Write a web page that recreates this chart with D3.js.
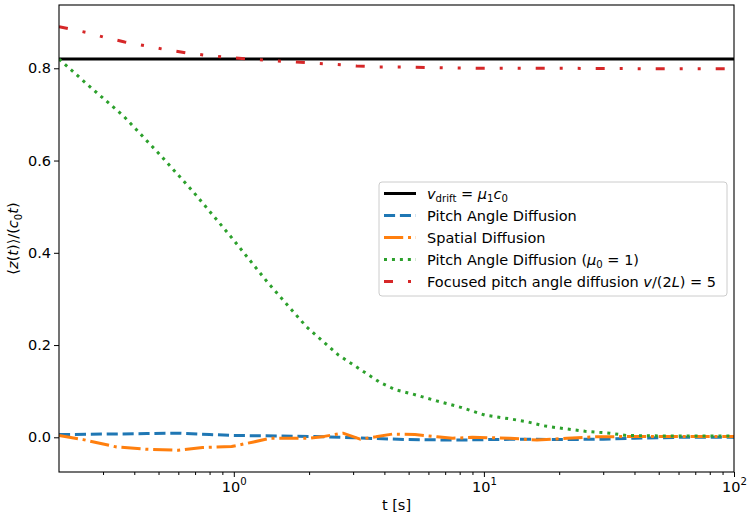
<!DOCTYPE html>
<html>
<head>
<meta charset="utf-8">
<script src="https://cdn.jsdelivr.net/npm/d3@7"></script>
<style>
  body { margin: 0; background: #fff; }
  svg text { font-family: "DejaVu Sans", sans-serif; }
</style>
</head>
<body>
<div id="chart"></div>
<script>
// values
const driftV = 0.82;
const driftT = [0.2, 100];

const pitchT = [0.2, 0.3, 0.45, 0.6, 0.8, 1, 1.5, 2, 3, 5, 8, 10, 15, 20, 30, 40, 60, 100];
const pitchV = [0.006, 0.007, 0.008, 0.009, 0.006, 0.004, 0.003, 0.002, -0.001, -0.005, -0.006, -0.005, -0.004, -0.005, -0.004, -0.002, 0.0, 0.0];

const spatialT = [0.2, 0.25, 0.34, 0.45, 0.6, 0.75, 0.98, 1.2, 1.4, 2.0, 2.3, 2.73, 3.2, 3.7, 4.3, 5.3, 6.5, 7.5, 9, 12.7, 16.3, 21.5, 28, 40, 60, 100];
const spatialV = [0.004, -0.005, -0.021, -0.026, -0.028, -0.022, -0.02, -0.01, -0.002, -0.002, 0.002, 0.009, -0.004, 0.001, 0.007, 0.006, 0.001, -0.002, 0.0, -0.002, -0.006, -0.002, 0.001, 0.002, 0.002, 0.002];

const pitchMu1T = [0.2, 0.256, 0.363, 0.5, 0.684, 0.97, 1.36, 1.95, 2.61, 3.84, 4.44, 5.17, 6.47, 8.09, 10.1, 12.7, 14.8, 17.3, 20.1, 25.4, 31.9, 37.2, 50, 70, 100];
const pitchMu1V = [0.82, 0.768, 0.696, 0.616, 0.534, 0.436, 0.337, 0.240, 0.179, 0.119, 0.103, 0.094, 0.079, 0.065, 0.048, 0.040, 0.034, 0.025, 0.020, 0.013, 0.009, 0.004, 0.003, 0.003, 0.003];

const focusedT = [0.2, 0.256, 0.3, 0.366, 0.45, 0.54, 0.655, 0.81, 0.96, 1.18, 1.45, 1.73, 2.11, 2.6, 3.1, 3.8, 4.7, 6.9, 10, 20, 50, 100];
const focusedV = [0.89, 0.878, 0.868, 0.857, 0.848, 0.84, 0.833, 0.827, 0.823, 0.82, 0.816, 0.814, 0.811, 0.808, 0.805, 0.803, 0.803, 0.801, 0.8, 0.8, 0.799, 0.799];

const yTicks = [0.0, 0.2, 0.4, 0.6, 0.8];
const xMajor = [1, 10, 100];
const xMinor = [0.3, 0.4, 0.5, 0.6, 0.7, 0.8, 0.9, 2, 3, 4, 5, 6, 7, 8, 9, 20, 30, 40, 50, 60, 70, 80, 90];

const W = 748, H = 514;
const margin = {left: 59, right: 14, top: 5, bottom: 42};
const width = W - margin.left - margin.right;
const height = H - margin.top - margin.bottom;
const FS = 14.5;

const x = d3.scaleLog([0.2, 100], [0, width]);
const y = d3.scaleLinear([-0.0752, 0.9372], [height, 0]);

const svg = d3.select("#chart").append("svg")
  .attr("width", W).attr("height", H);
const g = svg.append("g")
  .attr("transform", "translate(" + margin.left + "," + margin.top + ")");

// clip for lines
g.append("clipPath").attr("id", "clip")
  .append("rect").attr("width", width).attr("height", height);

// small helper for mathtext-like labels
function mathText(sel, parts, fs) {
  let shift = 0;
  parts.forEach(p => {
    const ts = sel.append("tspan").text(p.t);
    if (p.it) ts.style("font-style", "italic");
    const want = p.sub ? fs * 0.27 : (p.sup ? -fs * 0.45 : 0);
    if (want !== shift) { ts.attr("dy", want - shift); shift = want; }
    if (p.sub || p.sup) ts.style("font-size", (fs * 0.7) + "px");
  });
}

const series = [
  {t: driftT, v: [driftV, driftV], color: "#000000", dash: null},
  {t: pitchT, v: pitchV, color: "#1f77b4", dash: "11.1 4.8"},
  {t: spatialT, v: spatialV, color: "#ff7f0e", dash: "19.2 4.8 3 4.8"},
  {t: pitchMu1T, v: pitchMu1V, color: "#2ca02c", dash: "3 4.95"},
  {t: focusedT, v: focusedV, color: "#d62728", dash: "9 15 3 15 3 15"}
];

const line = d3.line().x(d => x(d[0])).y(d => y(d[1]));

g.append("g").attr("clip-path", "url(#clip)")
  .selectAll("path")
  .data(series)
  .join("path")
  .attr("d", s => line(d3.zip(s.t, s.v)))
  .attr("fill", "none")
  .attr("stroke", s => s.color)
  .attr("stroke-width", 3)
  .attr("stroke-dasharray", s => s.dash)
  .attr("stroke-linecap", "butt")
  .attr("stroke-linejoin", "round");

// x axis: minor then major ticks
g.append("g")
  .attr("transform", "translate(0," + height + ")")
  .call(d3.axisBottom(x).tickValues(xMinor).tickSize(3).tickFormat(""))
  .call(a => a.select(".domain").remove());

const xAx = g.append("g")
  .attr("transform", "translate(0," + height + ")")
  .call(d3.axisBottom(x).tickValues(xMajor).tickSize(5).tickFormat(""))
  .call(a => a.select(".domain").remove());

xAx.selectAll(".tick").append("text")
  .attr("fill", "#000")
  .attr("y", 20)
  .attr("text-anchor", "middle")
  .style("font-size", FS + "px")
  .each(function(d) {
    mathText(d3.select(this), [{t: "10"}, {t: String(Math.round(Math.log10(d))), sup: true}], FS);
  });

// y axis
g.append("g")
  .call(d3.axisLeft(y).tickValues(yTicks).tickSize(5).tickFormat(d3.format(".1f")))
  .call(a => a.select(".domain").remove())
  .call(a => a.selectAll("text").attr("fill", "#000").attr("x", -8).style("font-size", FS + "px"));

// frame
g.append("rect")
  .attr("width", width).attr("height", height)
  .attr("fill", "none").attr("stroke", "#000").attr("stroke-width", 1.1);

// axis labels
g.append("text")
  .attr("x", x(Math.sqrt(0.2 * 100))).attr("y", height + 38)
  .attr("text-anchor", "middle")
  .style("font-size", FS + "px")
  .text("t [s]");

svg.append("text")
  .attr("transform", "translate(18," + (margin.top + height / 2) + ") rotate(-90)")
  .attr("text-anchor", "middle")
  .style("font-size", FS + "px")
  .call(s => mathText(s, [
    {t: "\u27E8"}, {t: "z", it: true}, {t: "("}, {t: "t", it: true}, {t: ")\u27E9/("},
    {t: "c", it: true}, {t: "0", sub: true}, {t: "t", it: true}, {t: ")"}
  ], FS));

// legend
const legendLabels = [
  [{t: "v", it: true}, {t: "drift", sub: true}, {t: " = "}, {t: "\u03BC", it: true}, {t: "1", sub: true}, {t: "c", it: true}, {t: "0", sub: true}],
  [{t: "Pitch Angle Diffusion"}],
  [{t: "Spatial Diffusion"}],
  [{t: "Pitch Angle Diffusion ("}, {t: "\u03BC", it: true}, {t: "0", sub: true}, {t: " = 1)"}],
  [{t: "Focused pitch angle diffusion "}, {t: "v", it: true}, {t: "/(2"}, {t: "L", it: true}, {t: ") = 5"}]
];

const lg = svg.append("g").attr("transform", "translate(379,182)");
lg.append("rect")
  .attr("width", 348).attr("height", 114)
  .attr("rx", 3)
  .attr("fill", "#fff").attr("fill-opacity", 0.8)
  .attr("stroke", "#ccc").attr("stroke-width", 1);

const rows = lg.selectAll("g.row")
  .data(series)
  .join("g")
  .attr("class", "row")
  .attr("transform", (d, i) => "translate(0," + (11.5 + i * 22) + ")");

rows.append("line")
  .attr("x1", 5).attr("x2", 37)
  .attr("stroke", d => d.color)
  .attr("stroke-width", 3)
  .attr("stroke-dasharray", d => d.dash);

rows.append("text")
  .attr("x", 48).attr("y", 5)
  .style("font-size", FS + "px")
  .each(function(d, i) { mathText(d3.select(this), legendLabels[i], FS); });
</script>
</body>
</html>
